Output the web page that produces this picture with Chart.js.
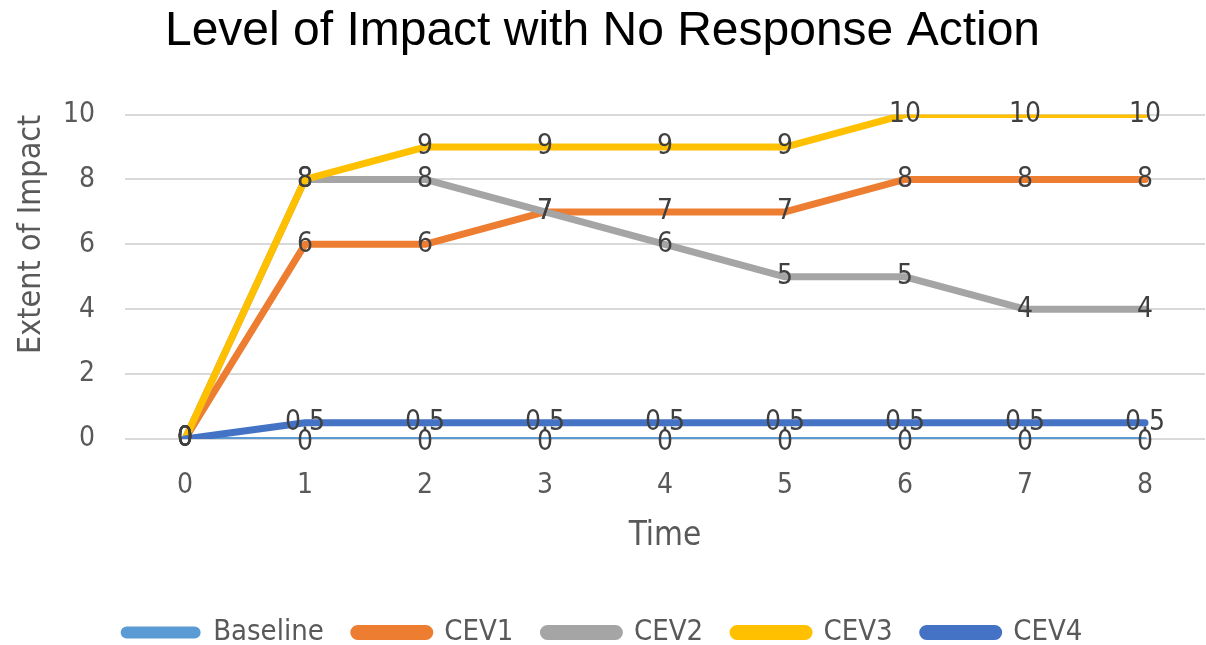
<!DOCTYPE html>
<html>
<head>
<meta charset="utf-8">
<title>Level of Impact with No Response Action</title>
<script src="https://cdn.jsdelivr.net/npm/chart.js@4/dist/chart.umd.min.js"></script>
<style>
  html, body { margin: 0; padding: 0; background: #fff; }
  #wrap { width: 1206px; height: 645px; position: relative; }
</style>
</head>
<body>
<div id="wrap"><canvas id="impactChart"></canvas></div>
<script>
	/* Chart data */
	var timeLabels = ['0', '1', '2', '3', '4', '5', '6', '7', '8'];
	var baseline = [0, 0, 0, 0, 0, 0, 0, 0, 0];
	var cev1 = [0, 6, 6, 7, 7, 7, 8, 8, 8];
	var cev2 = [0, 8, 8, 7, 6, 5, 5, 4, 4];
	var cev3 = [0, 8, 9, 9, 9, 9, 10, 10, 10];
	var cev4 = [0, 0.5, 0.5, 0.5, 0.5, 0.5, 0.5, 0.5, 0.5];
	var yTicks = [0, 2, 4, 6, 8, 10];

	var seriesNames = ['Baseline', 'CEV1', 'CEV2', 'CEV3', 'CEV4'];
	var seriesColours = ['#5B9BD5', '#ED7D31', '#A5A5A5', '#FFC000', '#4472C4'];
	var seriesData = [baseline, cev1, cev2, cev3, cev4];

	var narrow = '"Liberation Sans Narrow", "DejaVu Sans Condensed", sans-serif';
	var greyText = '#595959';

	var datasets = seriesData.map(function(data, i) {
		return {
			label: seriesNames[i],
			data: data,
			borderColor: seriesColours[i],
			backgroundColor: seriesColours[i],
			borderWidth: i === 0 ? 4 : 7,
			borderCapStyle: 'round',
			borderJoinStyle: 'round',
			pointRadius: 0,
			pointHoverRadius: 0,
			tension: 0,
			// later series on top, like the original
			order: seriesNames.length - i
		};
	});

	/* Value labels centred on every point */
	var pointLabels = {
		id: 'pointLabels',
		afterDatasetsDraw: function(chart) {
			var ctx = chart.ctx;
			ctx.save();
			ctx.font = '28px ' + narrow;
			ctx.fillStyle = '#404040';
			ctx.textAlign = 'center';
			ctx.textBaseline = 'middle';
			chart.data.datasets.forEach(function(ds, i) {
				var meta = chart.getDatasetMeta(i);
				meta.data.forEach(function(pt, j) {
					var dy = (i === 0 && j > 0) ? 4 : 0;
					ctx.fillText(String(ds.data[j]), pt.x, pt.y + dy);
				});
			});
			ctx.restore();
		}
	};

	var ctx = document.getElementById('impactChart');

	var impactChart = new Chart(ctx, {
		type: 'line',
		data: {
			labels: timeLabels,
			datasets: datasets
		},
		plugins: [pointLabels],
		options: {
			responsive: true,
			maintainAspectRatio: false,
			animation: false,
			layout: {
				padding: { left: 0, right: 1, top: 0, bottom: -12 }
			},
			plugins: {
				tooltip: { enabled: false },
				title: {
					display: true,
					text: 'Level of Impact with No Response Action',
					color: '#000',
					font: { family: '"Liberation Sans", Arial, sans-serif', size: 48, weight: 'normal', lineHeight: 1.2 },
					padding: { top: 3, bottom: 54 }
				},
				legend: {
					position: 'bottom',
					reverse: true,
					labels: {
						color: greyText,
						font: { family: narrow, size: 29 },
						boxWidth: 76,
						boxHeight: 8,
						useBorderRadius: true,
						borderRadius: 4,
						padding: 30
					}
				}
			},
			scales: {
				x: {
					offset: true,
					grid: { display: false, drawTicks: false },
					border: { display: false },
					ticks: {
						color: greyText,
						font: { family: narrow, size: 28 },
						padding: 30
					},
					title: {
						display: true,
						text: 'Time',
						color: greyText,
						font: { family: narrow, size: 33 },
						padding: { top: 0, bottom: 32 }
					},
					afterFit: function(scale) {
						scale.height = 149;
					}
				},
				y: {
					min: 0,
					max: 10,
					afterBuildTicks: function(scale) {
						scale.ticks = yTicks.map(function(v) { return { value: v }; });
					},
					grid: { color: '#D9D9D9', lineWidth: 2, drawTicks: false },
					border: { display: false },
					ticks: {
						color: greyText,
						font: { family: narrow, size: 28 },
						padding: 30
					},
					title: {
						display: true,
						text: 'Extent of Impact',
						align: 'end',
						color: greyText,
						font: { family: narrow, size: 32 },
						padding: { top: 12, bottom: 0 }
					},
					afterFit: function(scale) {
						scale.width = 125;
					}
				}
			}
		}
	});
</script>
</body>
</html>
